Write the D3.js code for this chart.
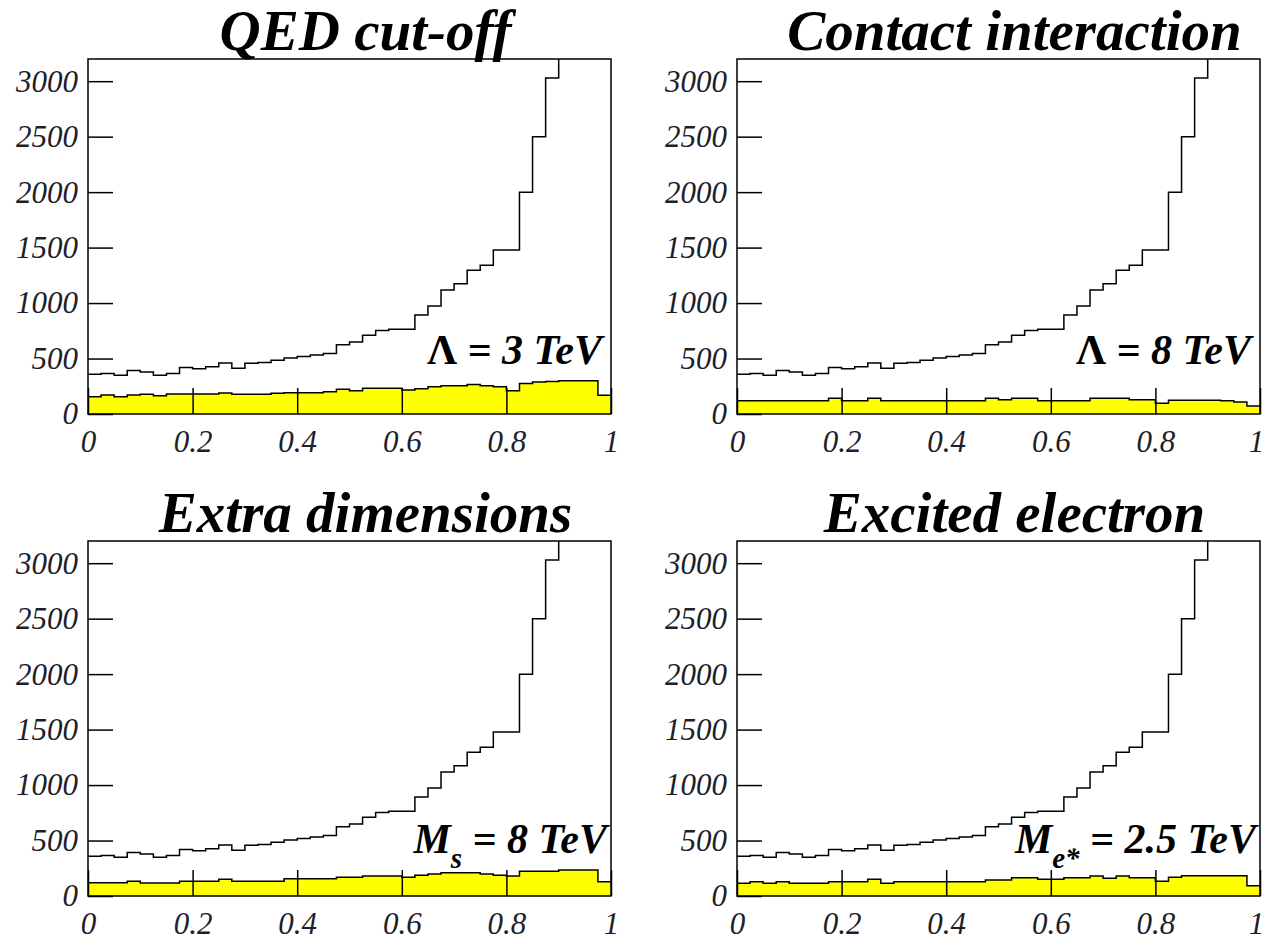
<!DOCTYPE html>
<html>
<head>
<meta charset="utf-8">
<script src="https://cdn.jsdelivr.net/npm/d3@7"></script>
<style>
  body { margin: 0; background: #fff; }
  svg { display: block; }
</style>
</head>
<body>
<svg id="chart" width="1266" height="940"></svg>
<script>
// Four ROOT-style histograms: steep black background shape, yellow signal band.

const xTicks = [0, 0.2, 0.4, 0.6, 0.8, 1];
const yTicks = [0, 500, 1000, 1500, 2000, 2500, 3000];
const binWidth = 0.025; // 40 bins on [0, 1]

// Black histogram, same in all four panels. Last bins go off the top.
const background = [
  358, 365, 350, 392, 378, 350, 365, 420, 408, 425,
  460, 413, 458, 465, 485, 505, 518, 532, 545, 625,
  648, 710, 752, 765, 765, 892, 973, 1117, 1175, 1295,
  1340, 1478, 1478, 1998, 2500, 3028, 3700, 4500, 5600, 7200
];

const yellowQED = [
  156, 171, 156, 171, 177, 165, 180, 180, 180, 180,
  189, 177, 177, 177, 186, 192, 192, 192, 201, 222,
  210, 231, 231, 231, 216, 228, 246, 255, 255, 267,
  255, 246, 210, 276, 288, 294, 300, 300, 300, 168
];

const yellowContact = [
  120, 120, 120, 120, 120, 120, 120, 141, 120, 120,
  141, 120, 120, 120, 120, 120, 120, 120, 120, 141,
  129, 141, 141, 120, 120, 120, 120, 141, 141, 141,
  129, 129, 96, 123, 123, 123, 123, 120, 108, 72
];

const yellowExtraDim = [
  120, 120, 120, 132, 117, 117, 117, 132, 132, 132,
  150, 132, 132, 132, 132, 156, 156, 156, 156, 168,
  168, 180, 180, 180, 168, 186, 198, 210, 210, 210,
  198, 186, 180, 222, 222, 222, 234, 234, 234, 129
];

const yellowExcited = [
  114, 129, 114, 129, 114, 114, 114, 129, 129, 129,
  150, 114, 129, 129, 129, 129, 129, 129, 129, 144,
  144, 165, 165, 150, 150, 165, 165, 180, 159, 180,
  165, 165, 132, 168, 183, 183, 183, 183, 183, 93
];

const titles = ["QED cut-off", "Contact interaction", "Extra dimensions", "Excited electron"];
const signals = [yellowQED, yellowContact, yellowExtraDim, yellowExcited];
// [symbol, subscript, rest]
const labels = [
  ["\u039B", "", " = 3 TeV"],
  ["\u039B", "", " = 8 TeV"],
  ["M", "s", " = 8 TeV"],
  ["M", "e*", " = 2.5 TeV"]
];

// layout
const frames = [[88, 59], [737, 59], [88, 541], [737, 541]];
const W = 523, H = 355;
const serif = '"Liberation Serif", "Times New Roman", Times, serif';

const svg = d3.select("#chart");
const x = d3.scaleLinear().domain([0, 1]).range([0, W]);
const y = d3.scaleLinear().domain([0, 3200]).range([H, 0]);

function steps(vals) {
  // left edge of every bin, plus the closing right edge
  const pts = vals.map((v, k) => [k * binWidth, v]);
  pts.push([1, vals[vals.length - 1]]);
  return pts;
}

const area = d3.area().curve(d3.curveStepAfter)
  .x(d => x(d[0])).y0(y(0)).y1(d => y(d[1]));
const line = d3.line().curve(d3.curveStepAfter)
  .x(d => x(d[0])).y(d => y(d[1]));

frames.forEach(([left, top], i) => {
  const g = svg.append("g").attr("transform", `translate(${left},${top})`);

  g.append("clipPath").attr("id", "clip" + i)
    .append("rect").attr("width", W).attr("height", H);
  const plot = g.append("g").attr("clip-path", `url(#clip${i})`);

  plot.append("path").datum(steps(signals[i]))
    .attr("d", area).attr("fill", "#ffff00");
  plot.append("path").datum(steps(signals[i]))
    .attr("d", line).attr("fill", "none")
    .attr("stroke", "#000").attr("stroke-width", 1.5);

  const yAxis = g.append("g")
    .call(d3.axisLeft(y).tickValues(yTicks).tickSize(-25).tickPadding(10).tickFormat(d3.format("d")));
  const xAxis = g.append("g").attr("transform", `translate(0,${H})`)
    .call(d3.axisBottom(x).tickValues(xTicks).tickSize(-26).tickPadding(16).tickFormat(d3.format("~g")));

  [yAxis, xAxis].forEach(ax => {
    ax.select(".domain").remove();
    ax.selectAll("line").attr("stroke-width", 1.5);
    ax.selectAll("text")
      .attr("font-family", serif).attr("font-size", 31)
      .attr("font-style", "italic").attr("fill", "#1e1e2a");
  });
  // keep the last "1" inside the page on the right-hand panels
  if (left + W > 1200) {
    xAxis.selectAll("text").filter(d => d === 1).attr("dx", -4);
  }

  plot.append("path").datum(steps(background))
    .attr("d", line).attr("fill", "none")
    .attr("stroke", "#000").attr("stroke-width", 1.5);

  g.append("rect").attr("width", W).attr("height", H)
    .attr("fill", "none").attr("stroke", "#000").attr("stroke-width", 1.5);

  g.append("text")
    .attr("x", W / 2 + 16).attr("y", -9)
    .attr("text-anchor", "middle")
    .attr("font-family", serif).attr("font-size", 57)
    .attr("font-weight", "bold").attr("font-style", "italic")
    .text(titles[i]);

  const [sym, sub, rest] = labels[i];
  const lbl = g.append("text")
    .attr("x", W - (sub ? 4 : 9)).attr("y", H - (sub ? 43 : 50))
    .attr("text-anchor", "end")
    .attr("font-family", serif).attr("font-size", 42)
    .attr("font-weight", "bold").attr("font-style", "italic");
  lbl.append("tspan")
    .attr("font-style", sub ? "italic" : "normal")
    .text(sym);
  if (sub) {
    lbl.append("tspan").attr("font-size", 29).attr("dy", 15).text(sub);
    lbl.append("tspan").attr("dy", -15).text(rest);
  } else {
    lbl.append("tspan").text(rest);
  }
});
</script>
</body>
</html>
